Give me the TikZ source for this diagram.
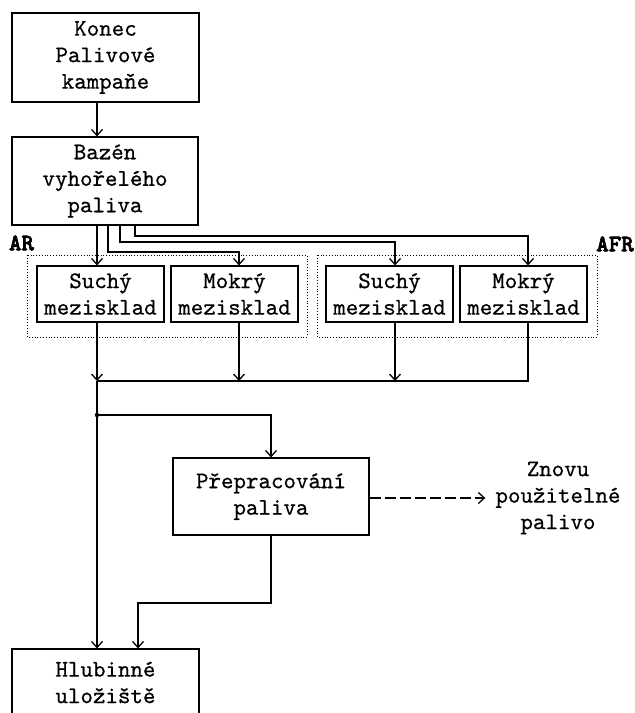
\documentclass[tikz,border=0pt]{standalone}
\usepackage{fontspec}
\newfontfamily\courf{lmmono10-regular.otf}[FakeBold=0.6]
\newfontfamily\courb{lmmonolt10-bold.otf}[FakeBold=2.5]
\usetikzlibrary{arrows.meta}
\begin{document}
\begin{tikzpicture}[x=1pt,y=-1pt,
  txt/.style={font=\courf\fontsize{23.8}{26.5}\selectfont, align=center},
  box/.style={txt, draw, line width=1.2pt, rectangle, inner sep=0pt},
  grp/.style={draw, dotted, line width=0.8pt},
  lab/.style={font=\courb\fontsize{23.8}{26.5}\selectfont, inner sep=0pt},
  conn/.style={line width=1.6pt},
  arr/.style={conn, -{Straight Barb[length=6pt,width=11pt,line width=1.3pt]}}]
\useasboundingbox (0,0) rectangle (635,713);
% groups
\draw[grp] (27,255) rectangle (307,337);
\draw[grp] (317,255) rectangle (597,337);
\node[lab] (ar) at (21.5,243) {AR};
\node[lab] (afr) at (615,244) {AFR};
% nodes
\node[box, minimum width=187pt, minimum height=89pt] (konec) at (105.5,57.5) {Konec\\Palivové\\kampaňe};
\node[box, minimum width=186pt, minimum height=88pt] (bazen) at (105,181) {Bazén\\vyhořelého\\paliva};
\node[box, minimum width=127pt, minimum height=56pt] (sar) at (100.5,294) {Suchý\\mezisklad};
\node[box, minimum width=127pt, minimum height=56pt] (mar) at (234.5,294) {Mokrý\\mezisklad};
\node[box, minimum width=127pt, minimum height=56pt] (safr) at (389.5,294) {Suchý\\mezisklad};
\node[box, minimum width=127pt, minimum height=56pt] (mafr) at (523.5,294) {Mokrý\\mezisklad};
\node[box, minimum width=196pt, minimum height=77pt] (prep) at (271,496.5) {Přepracování\\paliva};
\node[txt, inner xsep=10pt, inner ysep=0pt] (znovu) at (558,498) {Znovu\\použitelné\\palivo};
\node[box, minimum width=187pt, minimum height=67pt] (hlub) at (105.5,682.5) {Hlubinné\\uložiště};
% coordinates
\coordinate (xa) at (97,0);
\coordinate (xb) at (108,252);
\coordinate (xc) at (120,242);
\coordinate (xd) at (135,236);
\coordinate (xm) at (239,0);
\coordinate (xs) at (395,0);
\coordinate (xq) at (528,0);
\coordinate (col) at (0,381);
\coordinate (dot) at (97,415);
\coordinate (bend) at (138,603);
% connectors
\draw[arr] (konec.south -| xa) -- (bazen.north -| xa);
\draw[arr] (bazen.south -| xa) -- (sar.north -| xa);
\draw[arr] (bazen.south -| xb) -- (xb) -| (mar.north -| xm);
\draw[arr] (bazen.south -| xc) -- (xc) -| (safr.north -| xs);
\draw[arr] (bazen.south -| xd) -- (xd) -| (mafr.north -| xq);
\draw[arr] (sar.south -| xa) -- (xa |- col);
\draw[arr] (mar.south -| xm) -- (xm |- col);
\draw[arr] (safr.south -| xs) -- (xs |- col);
\draw[conn] (mafr.south -| xq) |- (xa |- col);
\draw[conn] (xa |- col) -- (dot);
\fill (dot) circle (2.2pt);
\draw[arr] (dot) -| (prep.north);
\draw[arr] (dot) -- (hlub.north -| xa);
\draw[arr] (prep.south) |- (bend) -- (hlub.north -| bend);
\draw[arr, dash pattern=on 11pt off 4pt] (prep.east |- znovu.west) -- (znovu.west);
\end{tikzpicture}
\end{document}
